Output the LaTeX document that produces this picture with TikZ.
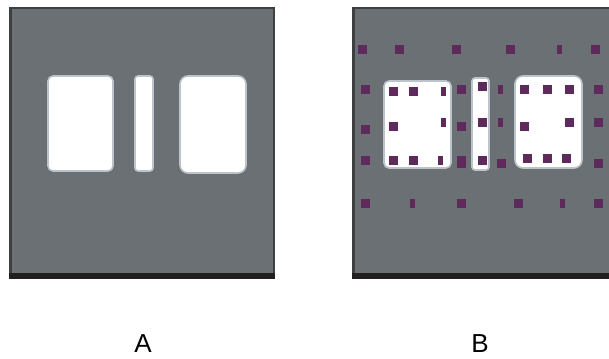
\documentclass[tikz,border=0pt]{standalone}
\usepackage{fontspec}
\setmainfont{Liberation Sans}
\usepackage{tikz}
\definecolor{slate}{HTML}{6A7074}
\definecolor{rim}{HTML}{3E3F41}
\definecolor{base}{HTML}{231F20}
\definecolor{fringe}{HTML}{BCC3CA}
\definecolor{plum}{HTML}{5E2A5C}
\tikzset{panel/.style={fill=slate},edge/.style={fill=rim},sill/.style={fill=base},
 blob/.style={fill=white,draw=fringe,line width=1.6pt},spot/.style={fill=plum},
 lbl/.style={font=\fontsize{26}{26}\selectfont,inner sep=0pt}}
\begin{document}
\begin{tikzpicture}[x=1pt,y=-1pt]
\useasboundingbox (0,0) rectangle (609,358);
% panel A
\fill[edge] (9,7) rectangle (275,279);
\fill[panel] (12,9) rectangle (273,273);
\fill[sill] (9,273) rectangle (275,279);
\draw[blob,rounded corners=5pt] (48,76) rectangle (113,171);
\draw[blob,rounded corners=3pt] (135,76) rectangle (153,171);
\draw[blob,rounded corners=8pt] (180,76) rectangle (246,173);
% panel B
\fill[edge] (352,7) rectangle (609,279);
\fill[panel] (355,9) rectangle (609,273);
\fill[sill] (352,273) rectangle (609,279);
\draw[blob,rounded corners=5pt] (384,81) rectangle (451,168);
\draw[blob,rounded corners=3pt] (472,78) rectangle (489,170);
\draw[blob,rounded corners=8pt] (515,76) rectangle (582,168);
% sample points
\foreach \x/\y in {362/50,399/50,456/50,510/50,595/50,
 365/90,393/92,413/92,461/90,482/87,524/90,547/90,569/90,598/90,
 365/130,393/127,461/127,482/123,524/127,569/123,598/123,
 365/160,393/160,413/160,482/160,501/163,527/158,547/158,566/158,598/163,
 365/203,461/203,518/203,598/203}
  \fill[spot] (\x-4.5,\y-4.5) rectangle ++(9,9);
\foreach \x/\y in {559/50,443/92,500/90,443/123,500/123,440/160,412/203,562/203}
  \fill[spot] (\x-2.5,\y-4.5) rectangle ++(5,9);
\fill[spot] (461-4.5,162-6) rectangle ++(9,12);
% labels
\node[lbl] (capA) at (143,344) {A};
\node[lbl] (capB) at (480,344) {B};
\end{tikzpicture}
\end{document}
